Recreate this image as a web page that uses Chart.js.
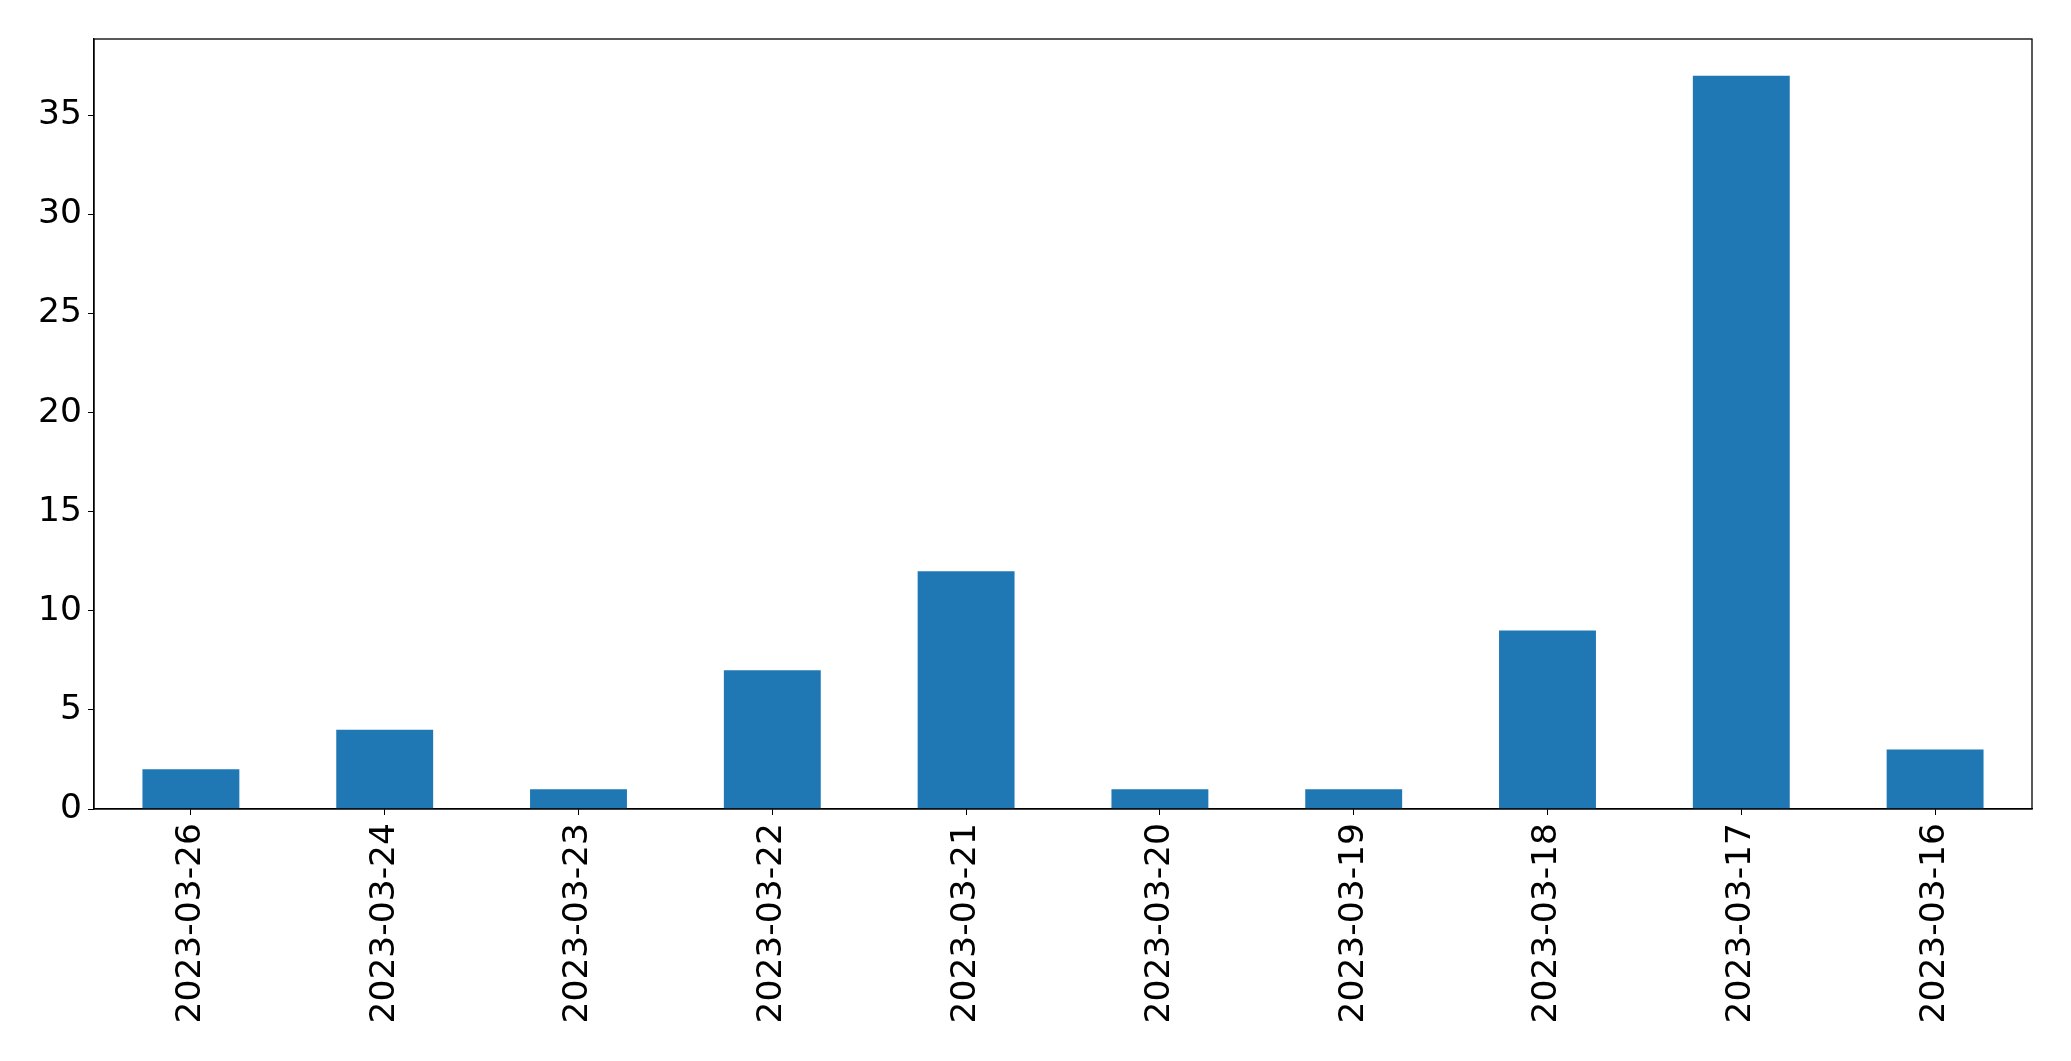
<html lang="en">

<head>
	<title>Daily counts</title>
	<meta http-equiv="content-type" content="text/html;charset=utf-8">
	<script src="https://cdn.jsdelivr.net/npm/chart.js@4/dist/chart.umd.min.js"></script>
	<style>
		body {
			margin: 0;
			background: #ffffff;
		}

		.div-chart {
			position: relative;
			width: 2071px;
			height: 1061px;
		}
	</style>
</head>

<body>
	<div class="div-chart">
		<canvas id="chart"></canvas>
	</div>
	<script>
		const dates = ['2023-03-26', '2023-03-24', '2023-03-23', '2023-03-22', '2023-03-21',
			'2023-03-20', '2023-03-19', '2023-03-18', '2023-03-17', '2023-03-16'];
		const counts = [2, 4, 1, 7, 12, 1, 1, 9, 37, 3];
		const yMax = 38.85; // 37 + 5% margin, like matplotlib
		const yStep = 5;

		// draws the full box round the plot area
		const frame = {
			id: 'frame',
			afterDraw(chart) {
				const a = chart.chartArea;
				const ctx = chart.ctx;
				ctx.save();
				ctx.strokeStyle = '#000000';
				ctx.lineWidth = 1.3;
				ctx.strokeRect(a.left, a.top, a.right - a.left, a.bottom - a.top);
				ctx.restore();
			}
		};

		const font = { family: '"DejaVu Sans", sans-serif', size: 34.5 };

		new Chart(document.getElementById('chart'), {
			type: 'bar',
			data: {
				labels: dates,
				datasets: [{
					data: counts,
					backgroundColor: '#1f77b4',
					categoryPercentage: 1.0,
					barPercentage: 0.5
				}]
			},
			options: {
				responsive: true,
				maintainAspectRatio: false,
				animation: false,
				layout: { padding: { left: 0, top: 39, right: 39, bottom: 0 } },
				plugins: {
					legend: { display: false },
					tooltip: { enabled: false }
				},
				scales: {
					x: {
						offset: true,
						grid: { drawOnChartArea: false, drawTicks: true, tickLength: 6, color: '#000000', offset: false },
						border: { display: true, color: '#000000', width: 1.3 },
						ticks: {
							font: font,
							color: '#000000',
							minRotation: 90,
							maxRotation: 90,
							autoSkip: false,
							padding: 8
						},
						afterFit(scale) { scale.height = 252; }
					},
					y: {
						min: 0,
						max: yMax,
						grid: { drawOnChartArea: false, drawTicks: true, tickLength: 6, color: '#000000' },
						border: { display: true, color: '#000000', width: 1.3 },
						ticks: {
							stepSize: yStep,
							includeBounds: false,
							font: font,
							color: '#000000',
							padding: 6
						},
						afterFit(scale) { scale.width = 94; }
					}
				}
			},
			plugins: [frame]
		});
	</script>
</body>

</html>
